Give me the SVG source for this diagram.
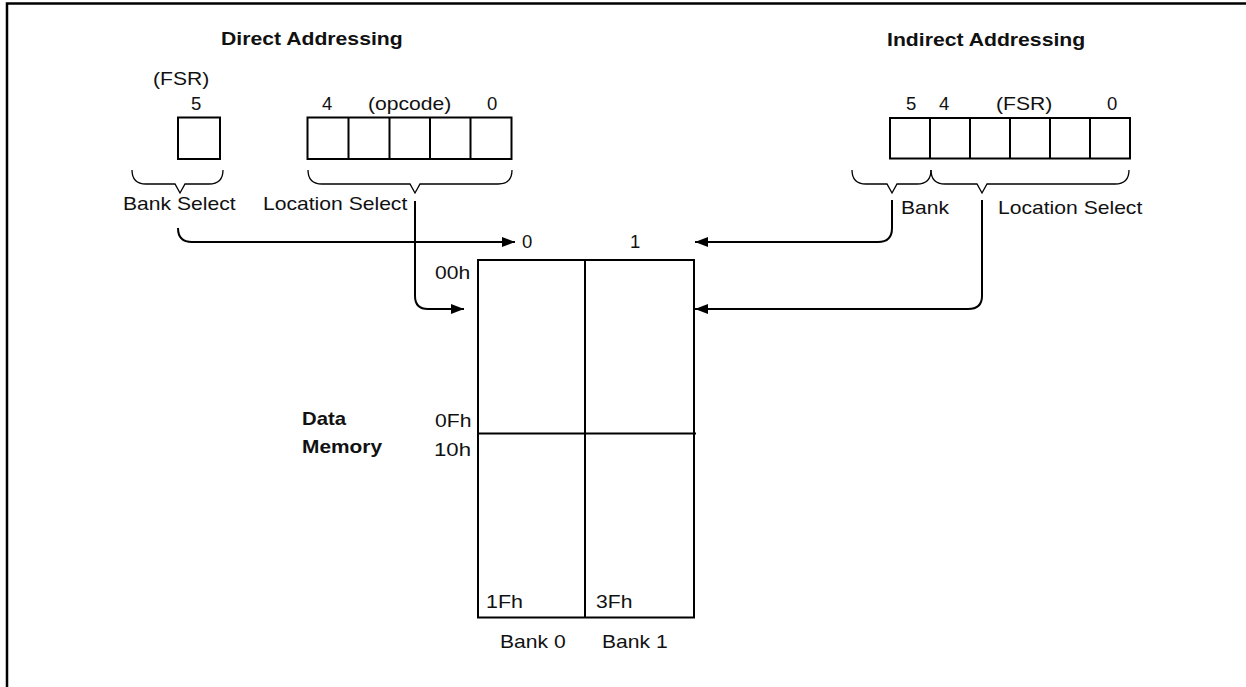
<svg xmlns="http://www.w3.org/2000/svg" width="1246" height="687" viewBox="0 0 1246 687">
<style>
text{font-family:"Liberation Sans",Arial,sans-serif;font-size:18.5px;fill:#111}
.b{font-weight:bold}
.box{fill:none;stroke:#000;stroke-width:2}
.br{fill:none;stroke:#000;stroke-width:1.3}
.cn{fill:none;stroke:#000;stroke-width:2}
</style>
<defs>
<marker id="ah" markerUnits="userSpaceOnUse" markerWidth="14" markerHeight="11" refX="13" refY="5" orient="auto">
<path d="M0,0 L13,5 L0,10 z" fill="#000"/>
</marker>
</defs>
<rect width="1246" height="687" fill="#fff"/>
<path d="M7,687 V3.5 H1246" fill="none" stroke="#000" stroke-width="2.5"/>

<g id="direct">
<text class="b" x="221" y="45" textLength="181.7" lengthAdjust="spacingAndGlyphs">Direct Addressing</text>
<g id="fsr-bit">
<text x="153" y="85" textLength="56.3" lengthAdjust="spacingAndGlyphs">(FSR)</text>
<text x="191" y="110">5</text>
<rect class="box" x="178" y="117.5" width="42" height="41.5"/>
<path class="br" d="M132,170 Q132,184 146,184 H175 L180,193 L185,184 H209 Q223,184 223,170"/>
<text x="123" y="210" textLength="112.6" lengthAdjust="spacingAndGlyphs">Bank Select</text>
</g>
<g id="opcode">
<text x="322" y="110">4</text>
<text x="368" y="110" textLength="83.3" lengthAdjust="spacingAndGlyphs">(opcode)</text>
<text x="487" y="110">0</text>
<rect class="box" x="307.5" y="117.5" width="204" height="41.5"/>
<path class="box" d="M348.5,117.5 V159 M389.5,117.5 V159 M430,117.5 V159 M470.5,117.5 V159"/>
<path class="br" d="M308,170 Q308,184 322,184 H410 L415,193 L420,184 H498 Q512,184 512,170"/>
<text x="263" y="210" textLength="144.3" lengthAdjust="spacingAndGlyphs">Location Select</text>
</g>
</g>

<g id="indirect">
<text class="b" x="887" y="46" textLength="198.2" lengthAdjust="spacingAndGlyphs">Indirect Addressing</text>
<text x="906" y="110">5</text>
<text x="939" y="110">4</text>
<text x="996" y="110" textLength="56.3" lengthAdjust="spacingAndGlyphs">(FSR)</text>
<text x="1107" y="110">0</text>
<rect class="box" x="890" y="118" width="240" height="40.5"/>
<path class="box" d="M930,118 V158.5 M970,118 V158.5 M1010,118 V158.5 M1050,118 V158.5 M1090,118 V158.5"/>
<path class="br" d="M852,170 Q852,184 866,184 H887 L892,193 L897,184 H917 Q931,184 931,170"/>
<path class="br" d="M931,170 Q931,184 945,184 H977 L982,193 L987,184 H1115 Q1129,184 1129,170"/>
<text x="901" y="214" textLength="48.1" lengthAdjust="spacingAndGlyphs">Bank</text>
<text x="998" y="214" textLength="144.3" lengthAdjust="spacingAndGlyphs">Location Select</text>
</g>

<g id="memory">
<text x="522" y="248">0</text>
<text x="630" y="248">1</text>
<rect class="box" x="478" y="260" width="216" height="357.5"/>
<path class="box" d="M585,260 V617.5 M478,433.5 H696"/>
<text x="435" y="279" textLength="35.2" lengthAdjust="spacingAndGlyphs">00h</text>
<text x="435" y="427" textLength="36.4" lengthAdjust="spacingAndGlyphs">0Fh</text>
<text x="434" y="456" textLength="37" lengthAdjust="spacingAndGlyphs">10h</text>
<text x="486" y="608" textLength="37" lengthAdjust="spacingAndGlyphs">1Fh</text>
<text x="596" y="608" textLength="36.4" lengthAdjust="spacingAndGlyphs">3Fh</text>
<text x="500" y="648" textLength="65.7" lengthAdjust="spacingAndGlyphs">Bank 0</text>
<text x="602" y="648" textLength="65.7" lengthAdjust="spacingAndGlyphs">Bank 1</text>
<text class="b" x="302" y="425" textLength="44" lengthAdjust="spacingAndGlyphs">Data</text>
<text class="b" x="302" y="453" textLength="80" lengthAdjust="spacingAndGlyphs">Memory</text>
</g>

<g id="connectors">
<path class="cn" d="M178,228 Q178,242 192,242 H515" marker-end="url(#ah)"/>
<path class="cn" d="M415,201 V296 Q415,309 428,309 H464" marker-end="url(#ah)"/>
<path class="cn" d="M892,200 V228 Q892,242 878,242 H695" marker-end="url(#ah)"/>
<path class="cn" d="M982,200 V296 Q982,309 968,309 H695" marker-end="url(#ah)"/>
</g>
</svg>
